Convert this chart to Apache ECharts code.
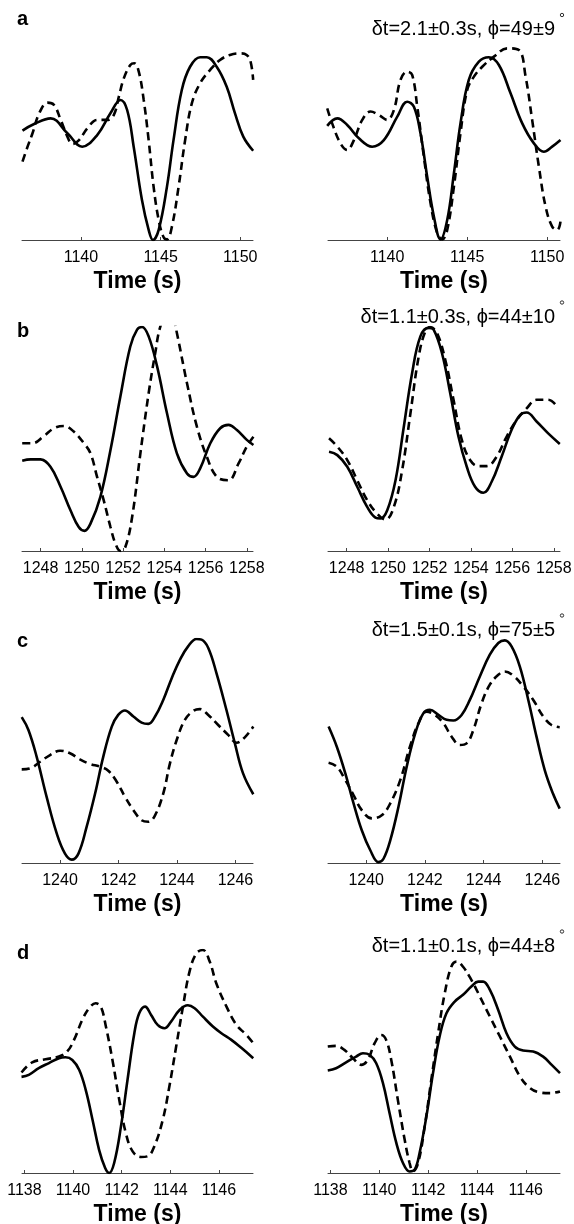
<!DOCTYPE html>
<html>
<head>
<meta charset="utf-8">
<script src="https://cdn.jsdelivr.net/npm/echarts@6/dist/echarts.min.js"></script>
<style>
html, body { margin: 0; padding: 0; background: #fff; }
#main { width: 574px; height: 1224px; }
</style>
</head>
<body>
<div id="main"></div>
<script>
// panel letters and the fit results shown top right
var panelNames = ['a', 'b', 'c', 'd'];
var annotations = [
	'δt=2.1±0.3s, ϕ=49±9',
	'δt=1.1±0.3s, ϕ=44±10',
	'δt=1.5±0.1s, ϕ=75±5',
	'δt=1.1±0.1s, ϕ=44±8'
];
// time window of each row (s)
var xRanges = [[1136.3, 1150.8], [1247.1, 1258.3], [1238.7, 1246.6], [1137.9, 1147.4]];
// tick labels of each row
var tickValues = [
	[1140, 1145, 1150],
	[1248, 1250, 1252, 1254, 1256, 1258],
	[1240, 1242, 1244, 1246],
	[1138, 1140, 1142, 1144, 1146]
];

// waveforms, [time, normalised amplitude]; Left / Right column
var aLeftSolid = [[1136.33,0.564],[1137.06,0.598],[1138.10,0.627],[1139.15,0.550],[1140.08,0.481],[1141.02,0.541],[1141.85,0.653],[1142.48,0.722],[1142.90,0.670],[1143.31,0.481],[1143.83,0.206],[1144.25,0.052],[1144.52,0.0],[1144.88,0.052],[1145.40,0.275],[1145.81,0.515],[1146.33,0.773],[1146.85,0.893],[1147.48,0.942],[1147.90,0.942],[1148.52,0.893],[1149.15,0.790],[1149.67,0.653],[1150.19,0.533],[1150.81,0.460]];
var aLeftDash = [[1136.33,0.404],[1136.65,0.481],[1136.96,0.550],[1137.38,0.653],[1137.90,0.708],[1138.31,0.696],[1138.73,0.619],[1139.15,0.533],[1139.46,0.495],[1139.88,0.515],[1140.40,0.576],[1141.02,0.619],[1141.65,0.619],[1142.06,0.644],[1142.38,0.739],[1142.69,0.833],[1143.10,0.902],[1143.35,0.911],[1143.63,0.868],[1143.94,0.722],[1144.25,0.515],[1144.56,0.275],[1144.88,0.103],[1145.19,0.014],[1145.40,0.003],[1145.71,0.069],[1146.13,0.275],[1146.54,0.515],[1146.96,0.704],[1147.48,0.808],[1148.10,0.876],[1148.73,0.928],[1149.35,0.954],[1149.98,0.962],[1150.40,0.954],[1150.65,0.919],[1150.81,0.825]];
var aRightSolid = [[1136.25,0.588],[1136.88,0.627],[1137.50,0.593],[1138.23,0.524],[1139.06,0.481],[1139.79,0.515],[1140.63,0.636],[1141.25,0.713],[1141.67,0.687],[1142.08,0.550],[1142.50,0.326],[1142.92,0.120],[1143.33,0.003],[1143.75,0.103],[1144.17,0.344],[1144.58,0.601],[1145.10,0.825],[1145.73,0.919],[1146.35,0.942],[1146.98,0.902],[1147.71,0.756],[1148.44,0.601],[1149.17,0.498],[1149.79,0.455],[1150.31,0.481],[1150.83,0.515]];
var aRightDash = [[1136.25,0.679],[1136.56,0.601],[1137.08,0.498],[1137.50,0.464],[1137.92,0.515],[1138.44,0.619],[1138.96,0.662],[1139.48,0.644],[1140.00,0.619],[1140.42,0.670],[1140.83,0.825],[1141.25,0.868],[1141.56,0.851],[1141.88,0.687],[1142.29,0.430],[1142.71,0.189],[1143.13,0.034],[1143.44,0.003],[1143.75,0.052],[1144.17,0.275],[1144.58,0.550],[1145.00,0.773],[1145.42,0.842],[1145.94,0.893],[1146.67,0.945],[1147.50,0.988],[1148.23,0.979],[1148.65,0.842],[1149.06,0.619],[1149.48,0.378],[1149.90,0.172],[1150.31,0.069],[1150.63,0.052],[1150.83,0.095]];

var bLeftSolid = [[1247.11,0.403],[1247.52,0.409],[1248.00,0.409],[1248.48,0.376],[1248.97,0.287],[1249.45,0.182],[1249.85,0.107],[1250.13,0.090],[1250.42,0.122],[1250.90,0.242],[1251.39,0.451],[1251.87,0.690],[1252.35,0.913],[1252.68,0.988],[1252.92,1.0],[1253.24,0.958],[1253.65,0.824],[1254.13,0.615],[1254.61,0.436],[1255.10,0.346],[1255.42,0.331],[1255.74,0.369],[1256.23,0.481],[1256.71,0.548],[1257.11,0.563],[1257.52,0.540],[1258.00,0.496],[1258.32,0.473]];
var bLeftDash = [[1247.11,0.481],[1247.60,0.481],[1248.16,0.513],[1248.65,0.548],[1249.13,0.558],[1249.61,0.533],[1250.10,0.481],[1250.42,0.436],[1250.74,0.331],[1251.06,0.227],[1251.39,0.107],[1251.63,0.033],[1251.87,0.0],[1252.11,0.018],[1252.44,0.152],[1252.84,0.436],[1253.24,0.704],[1253.56,0.884],[1253.81,1.003],[1254.13,1.06],[1254.45,1.03],[1254.61,0.973],[1255.10,0.749],[1255.58,0.555],[1256.06,0.421],[1256.55,0.331],[1257.11,0.316],[1257.60,0.391],[1258.00,0.466],[1258.32,0.510]];
var bRightSolid = [[1247.15,0.443],[1247.55,0.428],[1248.03,0.376],[1248.51,0.287],[1248.99,0.197],[1249.39,0.149],[1249.63,0.145],[1249.96,0.182],[1250.36,0.316],[1250.76,0.555],[1251.16,0.794],[1251.56,0.958],[1251.96,0.996],[1252.20,0.988],[1252.60,0.884],[1253.00,0.704],[1253.40,0.510],[1253.80,0.376],[1254.20,0.287],[1254.60,0.260],[1255.00,0.309],[1255.48,0.421],[1255.96,0.540],[1256.37,0.607],[1256.69,0.618],[1257.17,0.578],[1257.73,0.525],[1258.29,0.478]];
var bRightDash = [[1247.15,0.503],[1247.55,0.466],[1248.03,0.406],[1248.51,0.316],[1248.99,0.227],[1249.47,0.167],[1249.88,0.140],[1250.28,0.197],[1250.68,0.361],[1251.08,0.615],[1251.48,0.869],[1251.80,0.981],[1252.04,1.0],[1252.36,0.973],[1252.76,0.854],[1253.16,0.675],[1253.56,0.496],[1253.96,0.406],[1254.36,0.379],[1254.76,0.379],[1255.24,0.421],[1255.72,0.510],[1256.21,0.585],[1256.69,0.637],[1257.17,0.675],[1257.73,0.675],[1258.13,0.648]];

var cLeftSolid = [[1238.69,0.651],[1238.92,0.594],[1239.20,0.475],[1239.54,0.296],[1239.89,0.131],[1240.17,0.042],[1240.40,0.015],[1240.63,0.042],[1240.91,0.161],[1241.20,0.310],[1241.48,0.475],[1241.77,0.609],[1241.99,0.661],[1242.22,0.681],[1242.51,0.654],[1242.79,0.627],[1243.02,0.621],[1243.25,0.654],[1243.53,0.728],[1243.82,0.825],[1244.10,0.907],[1244.38,0.967],[1244.67,1.0],[1244.84,0.997],[1245.07,0.960],[1245.35,0.848],[1245.69,0.684],[1245.98,0.534],[1246.26,0.400],[1246.61,0.307]];
var cLeftDash = [[1238.69,0.418],[1238.97,0.422],[1239.32,0.452],[1239.66,0.482],[1240.00,0.501],[1240.34,0.490],[1240.68,0.463],[1241.03,0.442],[1241.37,0.430],[1241.65,0.412],[1241.94,0.363],[1242.22,0.296],[1242.51,0.236],[1242.79,0.191],[1243.02,0.184],[1243.25,0.213],[1243.53,0.310],[1243.76,0.445],[1243.99,0.549],[1244.27,0.639],[1244.56,0.679],[1244.78,0.687],[1245.07,0.661],[1245.41,0.616],[1245.75,0.572],[1246.04,0.537],[1246.32,0.561],[1246.61,0.609]];
var cRightSolid = [[1238.72,0.609],[1239.00,0.519],[1239.29,0.400],[1239.57,0.266],[1239.85,0.146],[1240.14,0.057],[1240.42,0.004],[1240.59,0.019],[1240.82,0.101],[1241.10,0.251],[1241.38,0.430],[1241.67,0.579],[1241.95,0.669],[1242.17,0.684],[1242.46,0.661],[1242.74,0.639],[1242.97,0.636],[1243.25,0.661],[1243.53,0.728],[1243.87,0.833],[1244.21,0.930],[1244.50,0.982],[1244.72,0.994],[1244.95,0.967],[1245.23,0.878],[1245.52,0.728],[1245.80,0.564],[1246.08,0.415],[1246.36,0.310],[1246.59,0.243]];
var cRightDash = [[1238.72,0.448],[1239.00,0.430],[1239.29,0.370],[1239.57,0.303],[1239.85,0.236],[1240.19,0.199],[1240.53,0.213],[1240.82,0.266],[1241.16,0.370],[1241.49,0.519],[1241.78,0.624],[1242.06,0.676],[1242.34,0.661],[1242.63,0.624],[1242.91,0.564],[1243.19,0.527],[1243.42,0.534],[1243.65,0.594],[1243.93,0.713],[1244.21,0.796],[1244.50,0.840],[1244.72,0.855],[1245.01,0.836],[1245.35,0.788],[1245.69,0.728],[1246.03,0.654],[1246.31,0.616],[1246.59,0.606]];

var dLeftSolid = [[1137.88,0.431],[1138.18,0.440],[1138.59,0.470],[1139.01,0.493],[1139.42,0.515],[1139.69,0.519],[1139.97,0.507],[1140.25,0.463],[1140.52,0.373],[1140.80,0.239],[1141.07,0.104],[1141.32,0.022],[1141.48,0.0],[1141.69,0.045],[1141.97,0.209],[1142.24,0.418],[1142.52,0.627],[1142.72,0.716],[1142.96,0.746],[1143.21,0.709],[1143.48,0.664],[1143.76,0.649],[1144.03,0.679],[1144.38,0.731],[1144.72,0.752],[1145.00,0.739],[1145.34,0.701],[1145.75,0.657],[1146.10,0.627],[1146.51,0.597],[1146.93,0.560],[1147.41,0.515]];
var dLeftDash = [[1137.88,0.451],[1138.32,0.496],[1138.87,0.510],[1139.42,0.522],[1139.76,0.545],[1140.04,0.597],[1140.38,0.687],[1140.66,0.739],[1140.93,0.761],[1141.14,0.746],[1141.35,0.657],[1141.62,0.507],[1141.90,0.328],[1142.17,0.179],[1142.45,0.097],[1142.79,0.072],[1143.07,0.075],[1143.34,0.119],[1143.69,0.239],[1143.96,0.388],[1144.24,0.567],[1144.52,0.746],[1144.79,0.903],[1145.07,0.985],[1145.34,1.0],[1145.62,0.948],[1145.89,0.851],[1146.31,0.746],[1146.72,0.664],[1147.13,0.619],[1147.41,0.582]];
var dRightSolid = [[1137.89,0.460],[1138.23,0.470],[1138.64,0.496],[1139.05,0.522],[1139.33,0.537],[1139.60,0.530],[1139.87,0.493],[1140.15,0.403],[1140.42,0.269],[1140.70,0.134],[1140.97,0.045],[1141.24,0.007],[1141.45,0.015],[1141.65,0.090],[1141.93,0.254],[1142.20,0.448],[1142.47,0.612],[1142.75,0.716],[1143.09,0.769],[1143.43,0.799],[1143.77,0.836],[1144.05,0.858],[1144.25,0.858],[1144.53,0.821],[1144.87,0.731],[1145.21,0.627],[1145.55,0.567],[1145.89,0.549],[1146.30,0.545],[1146.71,0.522],[1147.06,0.485],[1147.40,0.448]];
var dRightDash = [[1137.89,0.567],[1138.23,0.570],[1138.57,0.552],[1138.92,0.515],[1139.26,0.485],[1139.53,0.507],[1139.81,0.582],[1140.08,0.619],[1140.28,0.597],[1140.49,0.507],[1140.76,0.328],[1141.04,0.149],[1141.24,0.045],[1141.38,0.007],[1141.59,0.045],[1141.86,0.209],[1142.13,0.418],[1142.41,0.627],[1142.68,0.806],[1142.95,0.925],[1143.16,0.948],[1143.43,0.925],[1143.77,0.866],[1144.12,0.791],[1144.53,0.701],[1144.94,0.612],[1145.35,0.522],[1145.76,0.433],[1146.17,0.381],[1146.58,0.361],[1146.99,0.358],[1147.40,0.366]];

var solidData = [[aLeftSolid, aRightSolid], [bLeftSolid, bRightSolid], [cLeftSolid, cRightSolid], [dLeftSolid, dRightSolid]];
var dashData = [[aLeftDash, aRightDash], [bLeftDash, bRightDash], [cLeftDash, cRightDash], [dLeftDash, dRightDash]];

// layout (px)
var colLeft = [22, 328];
var colWidth = [231, 232];
var rowTop = [46, 327, 639, 950];
var rowHeight = [194, 224, 224, 223];
var letterY = [19, 331, 641, 953];
var noteY = [29.5, 317, 630, 946];

var font = 'Liberation Sans, Arial, Helvetica, sans-serif';

var grids = [], xAxes = [], yAxes = [], series = [], graphics = [];
for (var r = 0; r < 4; r++) {
	for (var c = 0; c < 2; c++) {
		var i = r * 2 + c;
		grids.push({
			left: colLeft[c], top: rowTop[r], width: colWidth[c], height: rowHeight[r],
			containLabel: false, outerBoundsMode: 'none'
		});
		xAxes.push({
			type: 'value', gridIndex: i,
			min: xRanges[r][0], max: xRanges[r][1],
			name: 'Time (s)', nameLocation: 'middle', nameGap: 30,
			nameTextStyle: { fontFamily: font, fontSize: 23, fontWeight: 'bold', color: '#000' },
			axisLine: { show: true, onZero: false, lineStyle: { color: '#444', width: 1 } },
			axisTick: { show: true, inside: true, length: 3, customValues: tickValues[r], lineStyle: { color: '#444', width: 1 } },
			axisLabel: {
				show: true, margin: 10, customValues: tickValues[r],
				fontFamily: font, fontSize: 16, color: '#000',
				formatter: function (v) { return String(v); }
			},
			splitLine: { show: false }
		});
		yAxes.push({
			type: 'value', gridIndex: i, min: 0, max: 1, show: false,
			splitLine: { show: false }
		});
		series.push({
			type: 'line', xAxisIndex: i, yAxisIndex: i,
			data: solidData[r][c], showSymbol: false, smooth: 0.4, clip: true,
			lineStyle: { color: '#000', width: 2.6 }
		});
		series.push({
			type: 'line', xAxisIndex: i, yAxisIndex: i,
			data: dashData[r][c], showSymbol: false, smooth: 0.4, clip: true,
			lineStyle: { color: '#000', width: 2.6, type: [8, 5] }
		});
	}
	// panel letter
	graphics.push({
		type: 'text', x: 17, y: letterY[r],
		style: { text: panelNames[r], font: 'bold 20px ' + font, fill: '#000', align: 'left', verticalAlign: 'middle' }
	});
	// fit result, degree sign drawn as a small raised ring
	graphics.push({
		type: 'text', x: 555, y: noteY[r],
		style: { text: annotations[r], font: '20px ' + font, fill: '#000', align: 'right', verticalAlign: 'middle' }
	});
	graphics.push({
		type: 'circle', shape: { cx: 562, cy: noteY[r] - 14.5, r: 1.7 },
		style: { fill: 'none', stroke: '#000', lineWidth: 0.8 }
	});
}

var myChart = echarts.init(document.getElementById('main'), null, { renderer: 'canvas' });
myChart.setOption({
	animation: false,
	backgroundColor: '#fff',
	grid: grids,
	xAxis: xAxes,
	yAxis: yAxes,
	series: series,
	graphic: graphics
});
</script>
</body>
</html>
